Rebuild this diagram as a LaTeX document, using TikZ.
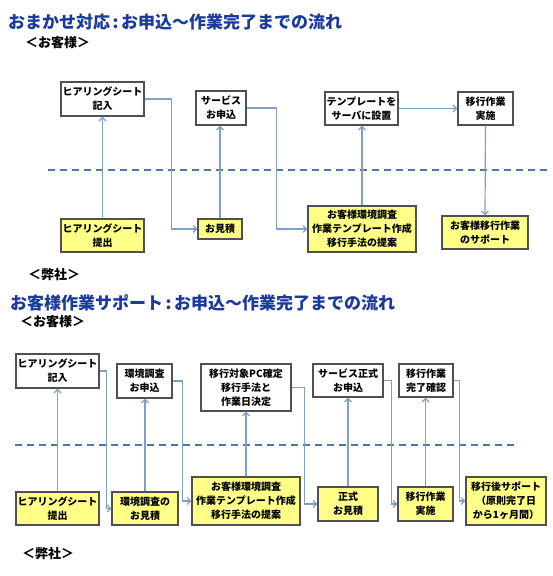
\documentclass[tikz,border=0pt]{standalone}
\usepackage{fontspec}
\setmainfont{Noto Sans CJK JP}
\usetikzlibrary{arrows.meta,shadows}
\definecolor{titleblue}{HTML}{1A3A9E}
\definecolor{connblue}{HTML}{7F9FC8}
\definecolor{dashblue}{HTML}{4A78B0}
\definecolor{boxyellow}{HTML}{FFFF88}
\definecolor{boxborder}{HTML}{505050}
\newcommand{\tcolon}{\hspace{2.5pt}:\hspace{2.5pt}}
\tikzset{
  boxbase/.style={draw=boxborder, line width=1.2pt, inner sep=0pt, align=center,
    font=\fontsize{10}{14}\selectfont\bfseries,
    drop shadow={shadow xshift=1.2pt, shadow yshift=-1.2pt, fill=gray!60, opacity=0.7}},
  custbox/.style={boxbase, fill=white},
  ourbox/.style={boxbase, fill=boxyellow},
  conn/.style={draw=connblue, line width=1.2pt, -{Straight Barb[length=3.5pt,width=7pt]}},
  divider/.style={draw=dashblue, line width=1.8pt, dash pattern=on 7pt off 5pt},
  titletext/.style={anchor=west, inner sep=0pt, text=titleblue, font=\fontsize{17}{19}\selectfont\bfseries},
  sidetext/.style={anchor=west, inner sep=0pt, font=\fontsize{13}{15}\selectfont\bfseries},
}
\begin{document}
\begin{tikzpicture}[x=1pt,y=-1pt]
\useasboundingbox (0,0) rectangle (552,576);
% ---------- top section ----------
\node[titletext] (t1) at (8,22) {おまかせ対応\tcolon お申込～作業完了までの流れ};
\node[sidetext] (c1) at (25,43) {＜お客様＞};
\node[sidetext] (o1) at (28,275) {＜弊社＞};

\node[custbox, minimum width=83pt, minimum height=34pt] (a1) at (102.5,99) {ヒアリングシート\\記入};
\node[custbox, minimum width=50pt, minimum height=34pt] (a2) at (221,108) {サービス\\お申込};
\node[custbox, minimum width=73pt, minimum height=33pt] (a3) at (361.5,108.5) {テンプレートを\\サーバに設置};
\node[custbox, minimum width=55pt, minimum height=33pt] (a4) at (485.5,108.5) {移行作業\\実施};

\coordinate (d1) at (48,170);
\coordinate (d2) at (550,170);
\draw[divider] (d1) -- (d2);

\node[ourbox, minimum width=83pt, minimum height=33pt] (b1) at (102.5,235.5) {ヒアリングシート\\提出};
\node[ourbox, minimum width=44pt, minimum height=20pt] (b2) at (220,229) {お見積};
\node[ourbox, minimum width=108pt, minimum height=46pt] (b3) at (362,229) {お客様環境調査\\作業テンプレート作成\\移行手法の提案};
\node[ourbox, minimum width=86pt, minimum height=33pt] (b4) at (485,232.5) {お客様移行作業\\のサポート};

\draw[conn] (b1.north) -- (a1.south);
\draw[conn] (a1.east) -- ++(27,0) |- (b2.west);
\draw[conn] (b2.north) -- (b2.north |- a2.south);
\draw[conn] (a2.east) -- ++(30,0) |- (b3.west);
\draw[conn] (b3.north) -- (b3.north |- a3.south);
\draw[conn] (a3.east) -- (a4.west);
\draw[conn] (a4.south) -- (b4.north);

% ---------- bottom section ----------
\node[titletext] (t2) at (10,303) {お客様作業サポート\tcolon お申込～作業完了までの流れ};
\node[sidetext] (c2) at (20,322) {＜お客様＞};
\node[sidetext] (o2) at (22,554) {＜弊社＞};

\node[custbox, minimum width=83pt, minimum height=34pt] (B1) at (57.5,371) {ヒアリングシート\\記入};
\node[custbox, minimum width=55pt, minimum height=34pt] (B2) at (144.5,381) {環境調査\\お申込};
\node[custbox, minimum width=90pt, minimum height=47pt] (B3) at (246,387.5) {移行対象PC確定\\移行手法と\\作業日決定};
\node[custbox, minimum width=70pt, minimum height=33pt] (B4) at (348,380.5) {サービス正式\\お申込};
\node[custbox, minimum width=54pt, minimum height=33pt] (B5) at (426,380.5) {移行作業\\完了確認};

\coordinate (e1) at (15,445);
\coordinate (e2) at (515,445);
\draw[divider] (e1) -- (e2);

\node[ourbox, minimum width=83pt, minimum height=33pt] (C1) at (57.5,508.5) {ヒアリングシート\\提出};
\node[ourbox, minimum width=66pt, minimum height=33pt] (C2) at (145,508.5) {環境調査の\\お見積};
\node[ourbox, minimum width=108pt, minimum height=48pt] (C3) at (246,501) {お客様環境調査\\作業テンプレート作成\\移行手法の提案};
\node[ourbox, minimum width=60pt, minimum height=34pt] (C4) at (348,504) {正式\\お見積};
\node[ourbox, minimum width=55pt, minimum height=34pt] (C5) at (425.5,504) {移行作業\\実施};
\node[ourbox, minimum width=80pt, minimum height=48pt] (C6) at (506,501) {移行後サポート\\（原則完了日\\から1ヶ月間）};

\draw[conn] (C1.north) -- (B1.south);
\draw[conn] (B1.east) -- ++(7,0) |- (C2.west);
\draw[conn] (C2.north) -- (C2.north |- B2.south);
\draw[conn] (B2.east) -- ++(10,0) |- (C3.west);
\draw[conn] (C3.north) -- (B3.south);
\draw[conn] (B3.east) -- ++(13,0) |- (C4.west);
\draw[conn] (C4.north) -- (B4.south);
\draw[conn] (B4.east) -- ++(8,0) |- (C5.west);
\draw[conn] (C5.north) -- (C5.north |- B5.south);
\draw[conn] (B5.east) -- ++(6,0) |- (C6.west);
\end{tikzpicture}
\end{document}
